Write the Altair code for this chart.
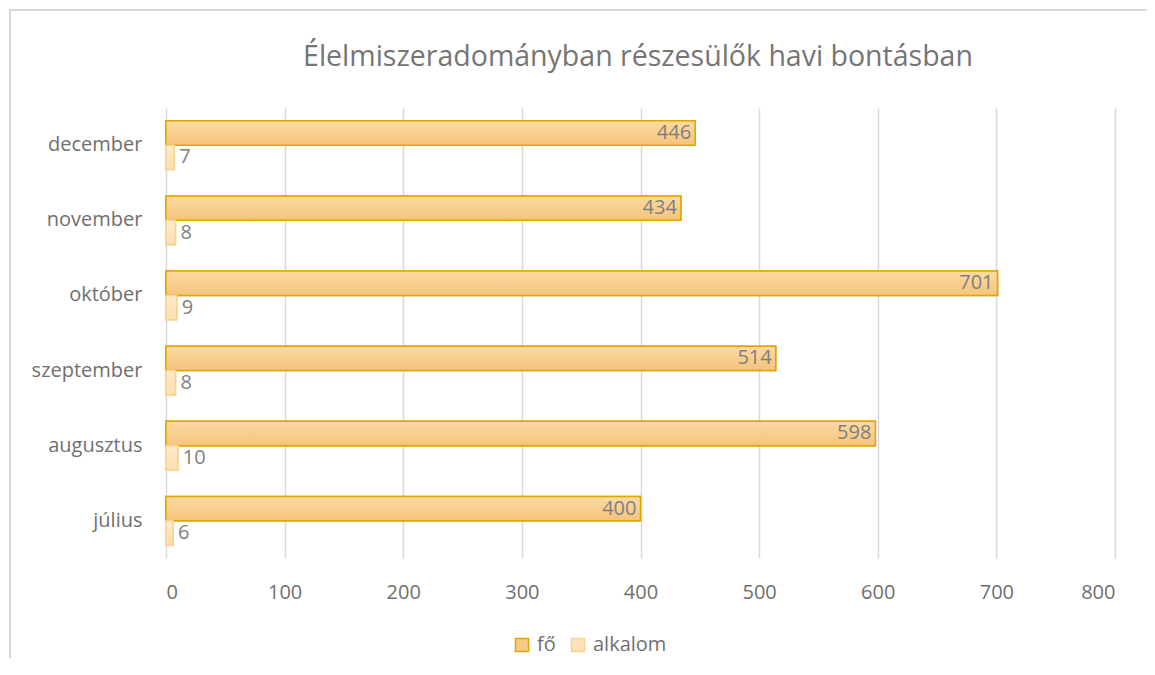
import altair as alt
import pandas as pd

title_text = "Élelmiszeradományban részesülők havi bontásban"
months = ["december", "november", "október", "szeptember", "augusztus", "július"]
fo = [446, 434, 701, 514, 598, 400]
alkalom = [7, 8, 9, 8, 10, 6]
series = ["fő", "alkalom"]
x_ticks = [0, 100, 200, 300, 400, 500, 600, 700, 800]

rows = []
for m, a, b in zip(months, fo, alkalom):
    rows.append({"month": m, "series": "fő", "value": a})
    rows.append({"month": m, "series": "alkalom", "value": b})
df = pd.DataFrame(rows)

FONT = "Open Sans"
GRAY = "#7f7f7f"
AX = "#6f6f6f"
FS = 20

ys = alt.Y("month:N", sort=months, title=None,
           scale=alt.Scale(paddingInner=0.35, paddingOuter=0.17),
           axis=alt.Axis(domain=False, ticks=False, labelFontSize=FS, labelColor=AX,
                         labelFont=FONT, labelPadding=24, grid=False))
xs = alt.X("value:Q", title=None,
           scale=alt.Scale(domain=[0, 800], nice=False),
           axis=alt.Axis(values=x_ticks, domain=False, ticks=False, labelFontSize=FS,
                         labelColor=AX, labelFont=FONT, labelPadding=24,
                         grid=True, gridColor="#d9d9d9", gridWidth=1.5))
yoff = alt.YOffset("series:N", sort=series, scale=alt.Scale(domain=series))

base1 = alt.Chart(pd.DataFrame({"k": [0]}))
frame_left = base1.mark_rule(stroke="#d9d9d9", strokeWidth=2).encode(
    x=alt.value(-156), y=alt.value(-98), y2=alt.value(700))
frame_top = base1.mark_rule(stroke="#d9d9d9", strokeWidth=2).encode(
    x=alt.value(-157), x2=alt.value(985), y=alt.value(-98))
title = base1.mark_text(fontSize=28.5, font=FONT, color="#757575", align="center",
                        baseline="middle").encode(
    x=alt.value(472), y=alt.value(-51), text=alt.value(title_text))

bars = alt.Chart(df).mark_bar(strokeWidth=1.5, fillOpacity=1).encode(
    y=ys, x=xs, yOffset=yoff,
    color=alt.Color("series:N", sort=series,
                    scale=alt.Scale(domain=series, range=["#F7CB86", "#FDE3BC"]),
                    legend=alt.Legend(orient="none", legendX=346, legendY=527, direction="horizontal",
                                      title=None, labelFontSize=FS, labelColor=AX,
                                      labelFont=FONT, symbolType="square", symbolSize=170,
                                      symbolStrokeWidth=1.5, columnPadding=12, labelOffset=5)),
    stroke=alt.Stroke("series:N", sort=series,
                      scale=alt.Scale(domain=series, range=["#E2A500", "#FAD28F"]),
                      legend=None),
)

grad_fo = {"gradient": "linear", "x1": 0, "y1": 0, "x2": 0, "y2": 1,
           "stops": [{"offset": 0, "color": "#FCDAA2"}, {"offset": 1, "color": "#F4C47C"}]}
grad_al = {"gradient": "linear", "x1": 0, "y1": 0, "x2": 0, "y2": 1,
           "stops": [{"offset": 0, "color": "#FEEBCD"}, {"offset": 1, "color": "#FDDEAF"}]}

bars_grad = alt.Chart(df).mark_bar(strokeWidth=1.5, fillOpacity=1).encode(
    y=ys, x=xs, yOffset=yoff,
    fill=alt.condition(alt.datum.series == "fő", alt.value(grad_fo), alt.value(grad_al)),
    stroke=alt.condition(alt.datum.series == "fő", alt.value("#E2A500"), alt.value("#FAD28F")),
)

lab_fo = alt.Chart(df[df.series == "fő"]).mark_text(
    align="right", baseline="middle", dx=-4, fontSize=FS, color=GRAY, font=FONT
).encode(y=ys, x=xs, yOffset=yoff, text="value:Q")

lab_al = alt.Chart(df[df.series == "alkalom"]).mark_text(
    align="left", baseline="middle", dx=5, fontSize=FS, color=GRAY, font=FONT
).encode(y=ys, x=xs, yOffset=yoff, text="value:Q")

chart = alt.layer(frame_left, frame_top, title, bars, bars_grad, lab_fo, lab_al).properties(
    width=949, height=450,
    padding={"left": 158, "top": 100, "right": 32, "bottom": 100},
    autosize=alt.AutoSizeParams(type="none"),
).configure_view(stroke=None)

chart.save("out.html", embed_options={"renderer": "svg", "actions": False})
